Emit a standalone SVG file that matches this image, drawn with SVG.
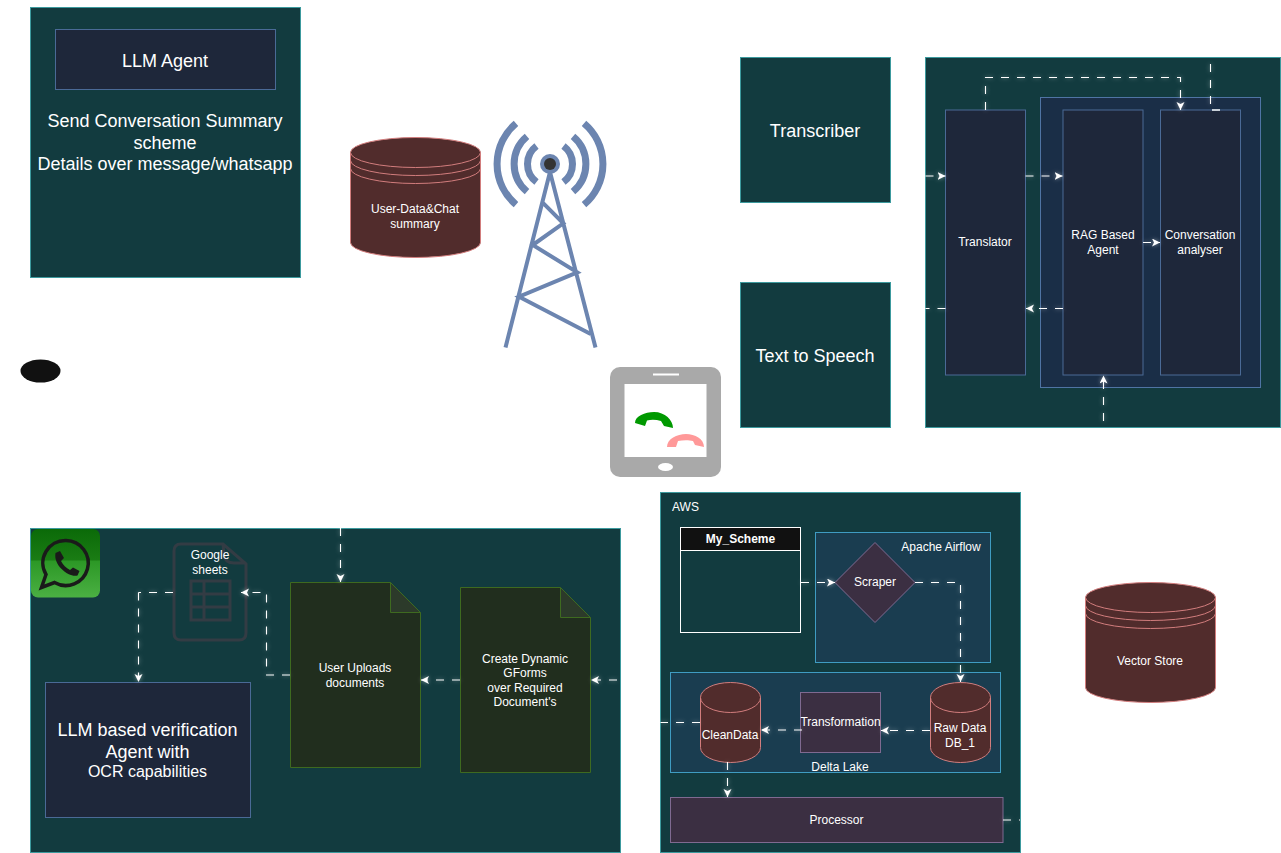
<svg xmlns="http://www.w3.org/2000/svg" width="1281" height="853" viewBox="0 0 1281 853">
<style>
text{font-family:"Liberation Sans",Arial,sans-serif;fill:#fff;text-anchor:middle;font-size:12px}
.lg{font-size:18px}
.teal{fill:#123b3f;stroke:#3c9a9e}
.navy{fill:#1e273a;stroke:#4a6a96}
.blue{fill:#1a2e47;stroke:#4f74a4}
.flow{fill:#1a3d50;stroke:#3f9cc2}
.cyl{fill:#512c2c;stroke:#d27d7d}
.doc{fill:#212e1e;stroke:#3e6a20}
.fold{fill:#2c3a2a;stroke:#3e6a20}
.purple{fill:#3b2f42;stroke:#7f6a91}
.tower{fill:none;stroke:#6c85b0;stroke-width:7}
.sheet{fill:none;stroke:#333c44;stroke-width:3}
.c{fill:none;stroke:#fff;stroke-width:1.1;stroke-dasharray:8 8}
.a{marker-end:url(#arrow)}
</style>
<defs>
<marker id="arrow" markerWidth="10" markerHeight="10" refX="8" refY="4" orient="auto" markerUnits="userSpaceOnUse"><path d="M0,0L8,4L0,8L2,4Z" fill="#fff"/></marker>
<filter id="glow" x="-20%" y="-20%" width="140%" height="140%"><feGaussianBlur stdDeviation="2" result="b"/><feComponentTransfer in="b" result="f"><feFuncA type="linear" slope=".5"/></feComponentTransfer><feMerge><feMergeNode in="f"/><feMergeNode in="SourceGraphic"/></feMerge></filter>
<linearGradient id="wa" x1="0" y1="0" x2="0" y2="1"><stop offset="0" stop-color="#0b6a08"/><stop offset=".45" stop-color="#1a7c14"/><stop offset=".47" stop-color="#2c9826"/><stop offset="1" stop-color="#4bb043"/></linearGradient>
</defs>

<g id="llm-agent-panel">
<rect class="teal" x="30.5" y="7.5" width="270" height="270"/>
<rect class="navy" x="55.5" y="29.5" width="220" height="60"/>
<text class="lg" x="165" y="67">LLM Agent</text>
<text class="lg" x="165" y="127">Send Conversation Summary</text>
<text class="lg" x="165" y="149">scheme</text>
<text class="lg" x="165" y="170">Details over message/whatsapp</text>
</g>

<g id="user-data-store">
<path class="cyl" d="M350.5,152.500A65,15 0 0 1 480.500,152.500V242.500A65,15 0 0 1 350.500,242.500Z"/>
<path class="cyl" style="fill:none" d="M350.500,152.500A65,15 0 0 0 480.500,152.500M350.500,160.500A65,15 0 0 0 480.500,160.500M350.500,168.500A65,15 0 0 0 480.500,168.500"/>
<text x="415" y="213">User-Data&amp;Chat</text>
<text x="415" y="228">summary</text>
</g>

<g id="tower">
<path class="tower" d="M516,123.400A53,53 0 0 0 516,204.600M584,123.400A53,53 0 0 1 584,204.600M527,136.400A36,36 0 0 0 527,191.600M573,136.400A36,36 0 0 1 573,191.600M536.500,146A22.500,22.500 0 0 0 536.500,182M563.500,146A22.500,22.500 0 0 1 563.500,182"/>
<path d="M550,172L505.500,347.500M550,172L595.500,347.500M541.700,201.700L563.300,223.300L532.700,245L577.300,272.300L519,296.700L590.700,334" fill="none" stroke="#6c85b0" stroke-width="4"/>
<circle cx="550" cy="164" r="10" fill="#6c85b0"/>
<circle cx="550" cy="164" r="6" fill="#333"/>
</g>

<g id="transcriber"><rect class="teal" x="740.500" y="57.500" width="150" height="145"/><text class="lg" x="815" y="137">Transcriber</text></g>
<g id="text-to-speech"><rect class="teal" x="740.500" y="282.500" width="150" height="145"/><text class="lg" x="815" y="362">Text to Speech</text></g>

<g id="agent-panel"><rect class="teal" x="925.500" y="57.500" width="355" height="370"/></g>
<g id="agent-group"><rect class="blue" x="1040.500" y="97.500" width="220" height="290"/></g>
<g id="translator"><rect class="navy" x="945.500" y="110" width="80" height="265"/><text x="985" y="246">Translator</text></g>
<g id="rag-agent"><rect class="navy" x="1063" y="110" width="80" height="265"/><text x="1103" y="239">RAG Based</text><text x="1103" y="254">Agent</text></g>
<g id="conversation-analyser"><rect class="navy" x="1160.500" y="110" width="80" height="265"/><text x="1200" y="239">Conversation</text><text x="1200" y="254">analyser</text><path d="M1212,110h8" stroke="#c8d0d8" stroke-width="2"/></g>

<g id="caller"><ellipse cx="40.500" cy="371" rx="20" ry="11.500" fill="#111"/></g>

<g id="phone">
<rect x="610" y="367" width="111" height="110" rx="10" fill="#a9a9a9"/>
<rect x="624.500" y="384" width="82" height="73" fill="#fff"/>
<rect x="653" y="373.500" width="26" height="2" fill="#fff"/>
<ellipse cx="665.500" cy="467" rx="7.500" ry="4" fill="#fff"/>
<path fill="#009900" d="M635,423C635,416 645,412 654,412C665,412 673,420 673,428L664,426L661,421C656,419.500 651,419.500 647,420.500L645,426Z"/>
<path fill="#ff9999" d="M667,447C667,439 677,434 686,434C695,434 704,439 704,447L695,445L693,441C689,440 683,440 678,441L676,447Z"/>
</g>

<g id="whatsapp-panel"><rect class="teal" x="30.500" y="528.500" width="590" height="324"/></g>
<g id="whatsapp-icon">
<rect x="31" y="529" width="69" height="68.500" rx="7" fill="url(#wa)"/>
<path d="M66,540.500A22.500,22.500 0 1 1 54.500,582.500L41.500,587.500L46,574.500A22.500,22.500 0 0 1 66,540.500Z" fill="none" stroke="#1a1a1a" stroke-width="3.500"/>
<path d="M55.500,553L60,551L64,558L61,561C63,565 66,568 70,570L73,567.500L79.500,571L77.500,575.500C70,578 53,566 55.500,553Z" fill="#1a1a1a"/>
</g>
<g id="google-sheets">
<path class="sheet" d="M223,544H181Q174,544 174,551V633Q174,640 181,640H239Q246,640 246,633V564ZM223,544L224,555Q225,563 234,563H246"/>
<path class="sheet" d="M191,581H230V620H191ZM204,581V620M191,594H230M191,607H230"/>
<text x="210" y="559">Google</text><text x="210" y="574">sheets</text>
</g>
<g id="user-uploads">
<path class="doc" d="M290.500,582.500H390.500L420.500,612.500V767.500H290.500Z"/>
<path class="fold" d="M390.500,582.500V612.500H420.500Z"/>
<text x="355" y="672">User Uploads</text><text x="355" y="687">documents</text>
</g>
<g id="dynamic-gforms">
<path class="doc" d="M460.500,587.500H560.500L590.500,617.500V772.500H460.500Z"/>
<path class="fold" d="M560.500,587.500V617.500H590.500Z"/>
<text x="525" y="663">Create Dynamic</text><text x="525" y="677">GForms</text><text x="525" y="692">over Required</text><text x="525" y="706">Document's</text>
</g>
<g id="llm-verification">
<rect class="navy" x="45.500" y="682.500" width="205" height="135"/>
<text class="lg" x="147.500" y="736">LLM based verification</text>
<text class="lg" x="147.500" y="758">Agent with</text>
<text x="147.500" y="777" style="font-size:16px">OCR capabilities</text>
</g>

<g id="aws-panel"><rect class="teal" x="660.500" y="492.500" width="360" height="360"/><text x="685.500" y="511">AWS</text></g>
<g id="my-scheme">
<rect x="680.500" y="527.500" width="120" height="105" fill="#123b3f" stroke="#fff"/>
<rect x="680.500" y="527.500" width="120" height="23" fill="#111" stroke="#fff"/>
<text x="740.500" y="543" font-weight="bold">My_Scheme</text>
</g>
<g id="airflow"><rect class="flow" x="815.500" y="532.500" width="175" height="130"/><text x="941" y="551">Apache Airflow</text></g>
<g id="scraper"><path class="purple" d="M875,542.500L915,582.500L875,622.500L835,582.500Z"/><text x="875" y="586">Scraper</text></g>
<g id="delta-lake"><rect class="flow" x="670.500" y="672.500" width="330" height="100"/><text x="840" y="771">Delta Lake</text></g>
<g id="clean-data">
<path class="cyl" d="M700.500,697.500A30,15 0 0 1 760.500,697.500V747.500A30,15 0 0 1 700.500,747.500Z"/>
<path class="cyl" style="fill:none" d="M700.500,697.500A30,15 0 0 0 760.500,697.500"/>
<text x="730" y="739">CleanData</text>
</g>
<g id="transformation"><rect class="purple" x="800.500" y="692.500" width="80" height="60"/><text x="840.500" y="726">Transformation</text></g>
<g id="raw-data">
<path class="cyl" d="M930.500,697.500A30,15 0 0 1 990.500,697.500V747.500A30,15 0 0 1 930.500,747.500Z"/>
<path class="cyl" style="fill:none" d="M930.500,697.500A30,15 0 0 0 990.500,697.500"/>
<text x="960" y="732">Raw Data</text><text x="960" y="747">DB_1</text>
</g>
<g id="processor"><rect class="purple" x="670.500" y="797.500" width="332.500" height="45"/><text x="836.500" y="824">Processor</text></g>

<g id="vector-store">
<path class="cyl" d="M1085.500,597.500A65,15 0 0 1 1215.500,597.500V687.500A65,15 0 0 1 1085.500,687.500Z"/>
<path class="cyl" style="fill:none" d="M1085.500,597.500A65,15 0 0 0 1215.500,597.500M1085.500,605.500A65,15 0 0 0 1215.500,605.500M1085.500,613.500A65,15 0 0 0 1215.500,613.500"/>
<text x="1150" y="665">Vector Store</text>
</g>

<g id="connectors" filter="url(#glow)">
<path class="c a" d="M985.500,110V77.500H1180.500V110"/>
<path class="c" d="M1210.500,64V104"/>
<path class="c a" d="M925.500,176H945.500"/>
<path class="c a" d="M1025.500,176H1062.500"/>
<path class="c a" d="M1143,242.500H1160"/>
<path class="c a" d="M1063,308.500H1026"/>
<path class="c" d="M945.500,308.500H925.500"/>
<path class="c a" d="M1103.500,421V375.500"/>
<path class="c a" d="M340.500,528V582"/>
<path class="c" d="M173,592.500H138.500"/>
<path class="c a" d="M138.500,592.500V682"/>
<path class="c a" d="M290,675H266.500V592.500H241"/>
<path class="c a" d="M460,680H421"/>
<path class="c a" d="M617,680H591"/>
<path class="c a" d="M801,582.500H835"/>
<path class="c a" d="M915,582.500H960.500V682"/>
<path class="c a" d="M930,730.500H881"/>
<path class="c a" d="M802,730H761"/>
<path class="c" d="M700,722.500H660.500"/>
<path class="c a" d="M727.500,762V797"/>
<path class="c" d="M1003,820H1020"/>
</g>
</svg>
